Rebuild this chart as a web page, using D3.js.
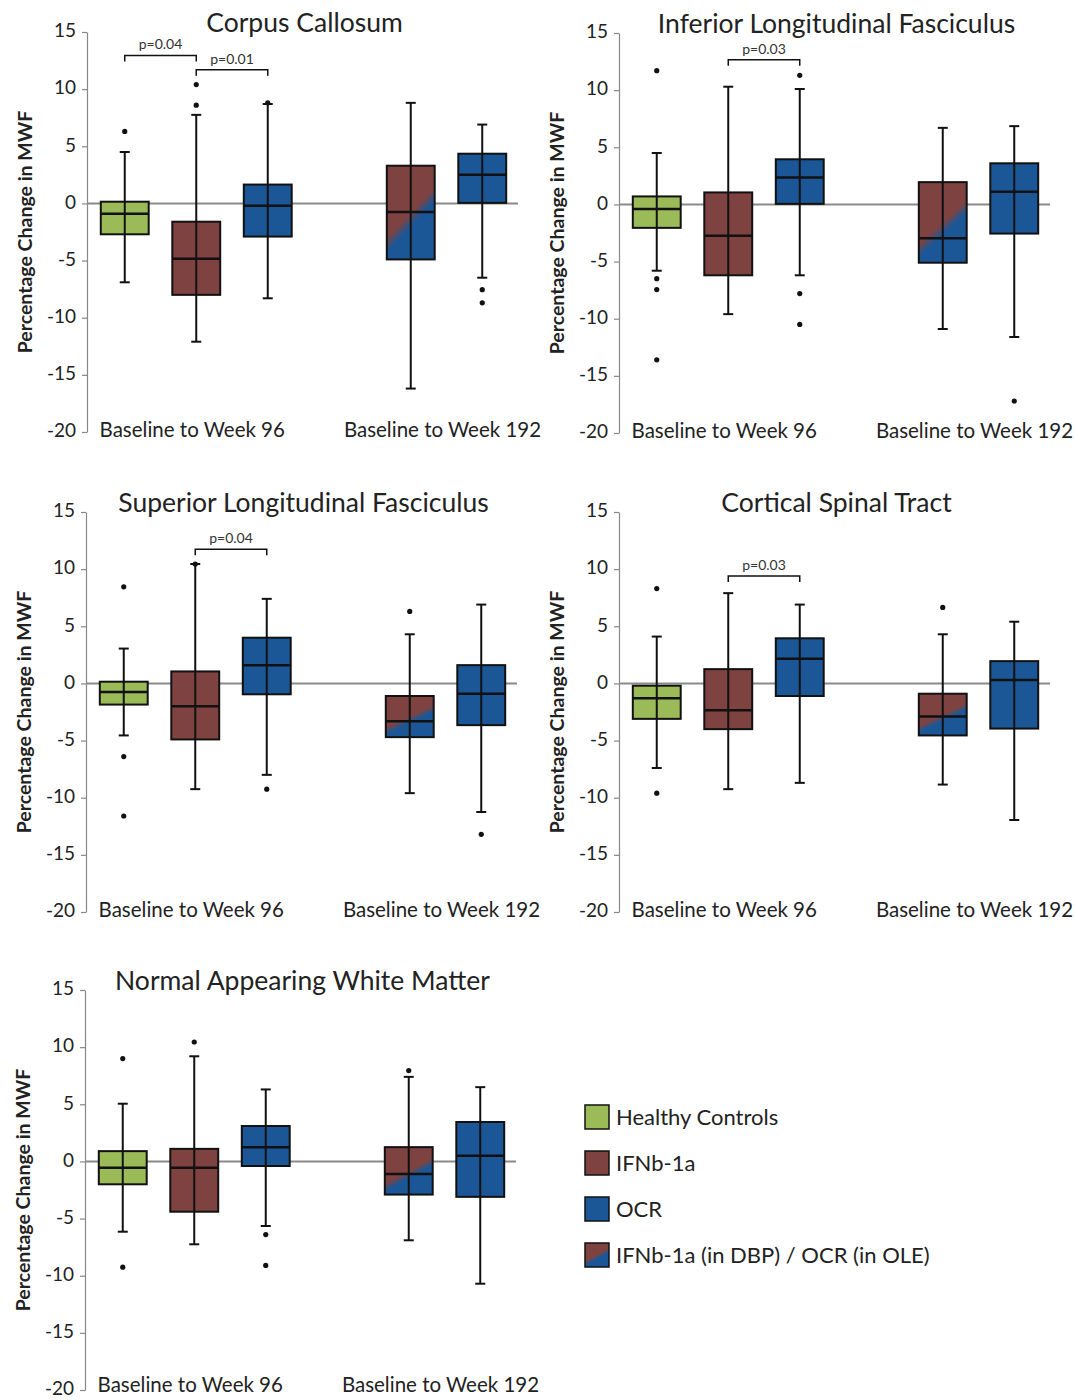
<!DOCTYPE html>
<html>
<head>
<meta charset="utf-8">
<script src="https://cdn.jsdelivr.net/npm/d3@7"></script>
<style>
  html, body { margin: 0; padding: 0; background: #fff; }
  svg { display: block; font-family: "Lato", "Open Sans", sans-serif; }
</style>
</head>
<body>
<svg id="chart" width="1075" height="1400"></svg>
<script>
// ---------------- DATA ----------------
const groups = ["Healthy Controls", "IFNb-1a", "OCR", "IFNb-1a (in DBP) / OCR (in OLE)"];
const periods = ["Baseline to Week 96", "Baseline to Week 192"];
const regions = ["Corpus Callosum", "Inferior Longitudinal Fasciculus", "Superior Longitudinal Fasciculus",
                 "Cortical Spinal Tract", "Normal Appearing White Matter"];
const yTicks = [15, 10, 5, 0, -5, -10, -15, -20];
const yLabel = "Percentage Change in MWF";

// boxes in each panel: group index and period index
const boxGroup  = [0, 1, 2, 3, 2];
const boxPeriod = [0, 0, 0, 1, 1];

// [whisker low, Q1, median, Q3, whisker high]
const ccStats   = [[-6.9, -2.7, -0.9, 0.15, 4.5], [-12.1, -8.0, -4.85, -1.6, 7.75], [-8.3, -2.9, -0.2, 1.65, 8.7], [-16.2, -4.9, -0.75, 3.3, 8.8], [-6.5, 0.05, 2.5, 4.35, 6.9]];
const ilfStats  = [[-5.8, -2.05, -0.4, 0.7, 4.5], [-9.6, -6.2, -2.75, 1.05, 10.3], [-6.2, 0.05, 2.35, 3.95, 10.1], [-10.9, -5.1, -2.95, 1.95, 6.7], [-11.6, -2.55, 1.1, 3.6, 6.85]];
const slfStats  = [[-4.55, -1.85, -0.75, 0.15, 3.05], [-9.25, -4.9, -2.0, 1.05, 10.45], [-8.0, -0.95, 1.6, 4.0, 7.4], [-9.6, -4.7, -3.3, -1.1, 4.3], [-11.25, -3.65, -0.9, 1.6, 6.9]];
const cstStats  = [[-7.4, -3.1, -1.3, -0.2, 4.1], [-9.25, -4.0, -2.35, 1.25, 7.9], [-8.7, -1.1, 2.15, 3.95, 6.9], [-8.85, -4.55, -2.9, -0.9, 4.3], [-11.95, -3.95, 0.3, 1.95, 5.4]];
const nawmStats = [[-6.15, -2.0, -0.55, 0.9, 5.05], [-7.25, -4.4, -0.55, 1.1, 9.2], [-5.65, -0.4, 1.25, 3.1, 6.3], [-6.9, -2.9, -1.1, 1.25, 7.4], [-10.7, -3.1, 0.5, 3.45, 6.5]];

const ccOutliers   = [[6.3], [10.4, 8.6], [8.8], [], [-7.55, -8.7]];
const ilfOutliers  = [[11.7, -6.5, -7.45, -13.6], [], [11.3, -7.8, -10.5], [], [-17.2]];
const slfOutliers  = [[8.45, -6.4, -11.6], [10.45], [-9.25], [6.3], [-13.2]];
const cstOutliers  = [[8.3, -9.6], [], [], [6.65], []];
const nawmOutliers = [[9.0, -9.25], [10.45], [-6.4, -9.1], [7.95], []];

// significance brackets: [from box, to box, height (% change), label]
const ccBrackets   = [[0, 1, 12.95, "p=0.04"], [1, 2, 11.7, "p=0.01"]];
const ilfBrackets  = [[1, 2, 12.65, "p=0.03"]];
const slfBrackets  = [[1, 2, 11.75, "p=0.04"]];
const cstBrackets  = [[1, 2, 9.4, "p=0.03"]];
const nawmBrackets = [];

const panelStats    = [ccStats, ilfStats, slfStats, cstStats, nawmStats];
const panelOutliers = [ccOutliers, ilfOutliers, slfOutliers, cstOutliers, nawmOutliers];
const panelBrackets = [ccBrackets, ilfBrackets, slfBrackets, cstBrackets, nawmBrackets];

// ---------------- STYLE / LAYOUT ----------------
const groupFill = ["#9bbb59", "#7e4240", "#1b5797", "url(#mixGrad)"];
const panelPos = [{x: 87, y: 32, lab: 5}, {x: 619, y: 33, lab: 5}, {x: 86, y: 512, lab: 5}, {x: 619, y: 512, lab: 5}, {x: 85, y: 990, lab: 2}];
const plotW = 431, plotH = 400;
const boxSlot = [0, 1, 2, 4, 5];

const svg = d3.select("#chart");
const defs = svg.append("defs");
const grad = defs.append("linearGradient").attr("id", "mixGrad")
  .attr("gradientUnits", "objectBoundingBox")
  .attr("x1", 0.225).attr("y1", 0.075).attr("x2", 0.775).attr("y2", 1.075);
grad.append("stop").attr("offset", "0.44").attr("stop-color", "#7e4240");
grad.append("stop").attr("offset", "0.56").attr("stop-color", "#1b5797");

const y = d3.scaleLinear().domain([-20, 15]).range([plotH, 0]);
const x = d3.scaleBand().domain(d3.range(6)).range([2, plotW]).paddingInner(0.33).paddingOuter(0.165);
const cx = i => x(boxSlot[i]) + x.bandwidth() / 2;

regions.forEach((name, p) => {
  const g = svg.append("g").attr("transform", `translate(${panelPos[p].x},${panelPos[p].y})`);

  // title
  g.append("text").attr("x", plotW / 2 + 2).attr("y", 0)
    .attr("text-anchor", "middle").attr("font-size", 26.5).attr("fill", "#222").text(name);

  // y axis
  const ax = g.append("g").call(d3.axisLeft(y).tickValues(yTicks).tickFormat(d => String(d))
    .tickSize(5).tickSizeOuter(0).tickPadding(6));
  ax.select(".domain").attr("stroke", "#888").attr("stroke-width", 1.2);
  ax.selectAll(".tick line").attr("stroke", "#888").attr("stroke-width", 1.2);
  ax.selectAll(".tick text").attr("font-size", 19).attr("fill", "#222").attr("font-family", "Lato, sans-serif")
    .attr("dy", "0.25em");

  // y label
  g.append("text").attr("transform", `translate(-55,${plotH / 2}) rotate(-90)`)
    .attr("text-anchor", "middle").attr("font-size", 19.5).attr("font-weight", "bold").attr("fill", "#222")
    .text(yLabel);

  // zero line
  g.append("line").attr("x1", 0).attr("x2", plotW).attr("y1", y(0)).attr("y2", y(0))
    .attr("stroke", "#8a8a8a").attr("stroke-width", 2);

  // category labels
  periods.forEach((per, k) => {
    const idx = boxPeriod.map((v, i) => v === k ? i : -1).filter(i => i >= 0);
    const xs = idx.map(cx);
    g.append("text").attr("x", (d3.min(xs) + d3.max(xs)) / 2 - 4).attr("y", plotH + panelPos[p].lab)
      .attr("text-anchor", "middle").attr("font-size", 20.5).attr("fill", "#222").text(per);
  });

  // boxes
  const bw = x.bandwidth();
  panelStats[p].forEach((s, i) => {
    const [lo, q1, med, q3, hi] = s;
    const c = cx(i);
    g.append("rect").attr("x", c - bw / 2).attr("y", y(q3)).attr("width", bw).attr("height", y(q1) - y(q3))
      .attr("fill", groupFill[boxGroup[i]]).attr("stroke", "#111").attr("stroke-width", 2);
    g.append("line").attr("x1", c).attr("x2", c).attr("y1", y(hi)).attr("y2", y(lo))
      .attr("stroke", "#111").attr("stroke-width", 2);
    [lo, hi].forEach(v => g.append("line").attr("x1", c - 5).attr("x2", c + 5).attr("y1", y(v)).attr("y2", y(v))
      .attr("stroke", "#111").attr("stroke-width", 2));
    g.append("line").attr("x1", c - bw / 2).attr("x2", c + bw / 2).attr("y1", y(med)).attr("y2", y(med))
      .attr("stroke", "#111").attr("stroke-width", 2.5);
    panelOutliers[p][i].forEach(v => g.append("circle").attr("cx", c).attr("cy", y(v)).attr("r", 2.6).attr("fill", "#111"));
  });

  // brackets
  panelBrackets[p].forEach(([a, b, h, lab]) => {
    const x1 = cx(a), x2 = cx(b), yy = y(h);
    g.append("path").attr("d", `M${x1},${yy + 6}V${yy}H${x2}V${yy + 6}`)
      .attr("fill", "none").attr("stroke", "#111").attr("stroke-width", 1.5);
    g.append("text").attr("x", (x1 + x2) / 2).attr("y", yy - 6).attr("text-anchor", "middle")
      .attr("font-size", 14).attr("fill", "#333").text(lab);
  });
});

// legend
const lg = svg.append("g").attr("transform", "translate(585,1105)");
groups.forEach((name, i) => {
  const row = lg.append("g").attr("transform", `translate(0,${i * 46})`);
  row.append("rect").attr("width", 24).attr("height", 24).attr("fill", groupFill[i])
    .attr("stroke", "#111").attr("stroke-width", 1.5);
  row.append("text").attr("x", 31).attr("y", 12).attr("dy", "0.35em")
    .attr("font-size", 22).attr("fill", "#222").text(name);
});
</script>
</body>
</html>
